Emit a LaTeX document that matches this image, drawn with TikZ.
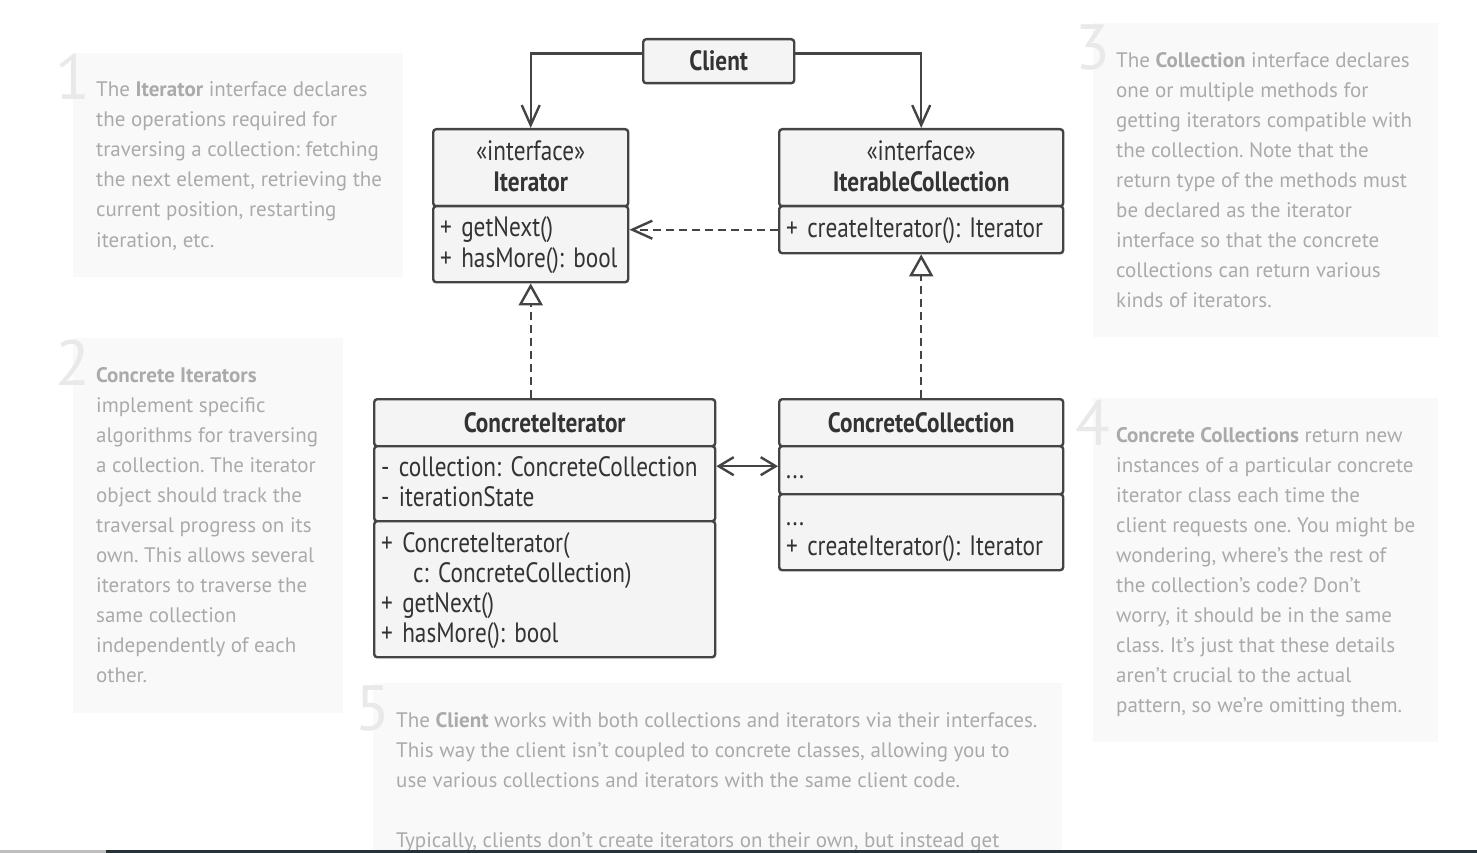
\documentclass[tikz,border=0pt]{standalone}
\usepackage{fontspec}
\setmainfont{PT Sans}
\newfontfamily\umlfont[FakeStretch=0.83]{PT Sans}
\usetikzlibrary{arrows.meta,positioning}
\definecolor{umlline}{HTML}{444444}
\definecolor{umlfill}{HTML}{F4F4F4}
\definecolor{umltext}{HTML}{333333}
\definecolor{notefill}{HTML}{F9F9F9}
\definecolor{notetext}{HTML}{AAAAAA}
\definecolor{notenum}{HTML}{E9E9E9}
\definecolor{barleft}{HTML}{BDBDBD}
\definecolor{barright}{HTML}{263238}
\newcommand\umlstrut{\rule[-6pt]{0pt}{28pt}}

\begin{document}
\frenchspacing
\begin{tikzpicture}[x=1pt, y=-1pt,
    part/.style={draw=umlline, fill=umlfill, line width=2.4pt, rounded corners=3pt, anchor=north west,
        inner xsep=7pt, inner ysep=0pt, text=umltext, font=\umlfont\fontsize{28}{30}\selectfont},
    head/.style={part, align=center},
    body/.style={part, align=left},
    note/.style={anchor=base west, align=left, inner sep=0pt, text=notetext, font=\fontsize{21}{30}\selectfont},
    num/.style={anchor=base east, inner sep=0pt, text=notenum, font=\fontsize{64}{64}\selectfont},
    uses/.style={draw=umlline, line width=2.4pt, -{Straight Barb[length=20pt,width=18pt]}},
    both/.style={draw=umlline, line width=2.4pt, {Straight Barb[length=15pt,width=18pt]}-{Straight Barb[length=15pt,width=18pt]}},
    depends/.style={uses, dash pattern=on 8pt off 5pt},
    realizes/.style={draw=umlline, line width=2.4pt, dash pattern=on 8pt off 5pt, -{Triangle[length=22pt,width=24pt,fill=white]}}]
    \useasboundingbox (0,0) rectangle (1477,853);

    % notes (placed at the baseline of their last line)
    \fill[notefill] (73,53) rectangle (403,277);
    \fill[notefill] (73,338) rectangle (343,713);
    \fill[notefill] (1093,23) rectangle (1438,337);
    \fill[notefill] (1093,398) rectangle (1438,742);
    \fill[notefill] (373,683) rectangle (1062,853);

    \node[num] (n1) at (91,100) {1};
    \node[note] (note1) at (96,247) {The \textbf{Iterator} interface declares\\the operations required for\\traversing a collection: fetching\\the next element, retrieving the\\current position, restarting\\iteration, etc.};
    \node[num] (n2) at (91,385) {2};
    \node[note] (note2) at (96,682) {\textbf{Concrete Iterators}\\implement specific\\algorithms for traversing\\a collection. The iterator\\object should track the\\traversal progress on its\\own. This allows several\\iterators to traverse the\\same collection\\independently of each\\other.};
    \node[num] (n3) at (1111,70) {3};
    \node[note] (note3) at (1116,307) {The \textbf{Collection} interface declares\\one or multiple methods for\\getting iterators compatible with\\the collection. Note that the\\return type of the methods must\\be declared as the iterator\\interface so that the concrete\\collections can return various\\kinds of iterators.};
    \node[num] (n4) at (1111,445) {4};
    \node[note] (note4) at (1116,712) {\textbf{Concrete Collections} return new\\instances of a particular concrete\\iterator class each time the\\client requests one. You might be\\wondering, where’s the rest of\\the collection’s code? Don’t\\worry, it should be in the same\\class. It’s just that these details\\aren’t crucial to the actual\\pattern, so we’re omitting them.};
    \node[num] (n5) at (391,730) {5};
    \node[note] (note5) at (396,847) {The \textbf{Client} works with both collections and iterators via their interfaces.\\This way the client isn’t coupled to concrete classes, allowing you to\\use various collections and iterators with the same client code.\\[30pt]Typically, clients don’t create iterators on their own, but instead get};

    % classes
    \node[head, text width=137pt, minimum height=44pt] (client) at (642,38) {\textbf{Client}};
    \node[head, text width=181pt, minimum height=77pt] (ithead) at (432,128) {\umlstrut«interface»\\[1pt]\textbf{Iterator}\umlstrut};
    \node[body, text width=181pt, minimum height=76pt] (itbody) at (432,205) {\umlstrut+ getNext()\\[1pt]+ hasMore(): bool\umlstrut};
    \node[head, text width=270pt, minimum height=77pt] (ichead) at (778,128) {\umlstrut«interface»\\[1pt]\textbf{IterableCollection}\umlstrut};
    \node[body, text width=270pt, minimum height=47pt] (icbody) at (778,205) {\umlstrut+ createIterator(): Iterator};
    \node[head, text width=327pt, minimum height=47pt] (cihead) at (373,398) {\textbf{ConcreteIterator}};
    \node[body, text width=327pt, minimum height=75pt] (cifields) at (373,445) {\umlstrut- collection: ConcreteCollection\\- iterationState\umlstrut};
    \node[body, text width=327pt, minimum height=136pt] (cimethods) at (373,520) {\umlstrut+ ConcreteIterator(\\\hspace*{32pt}c: ConcreteCollection)\\+ getNext()\\+ hasMore(): bool\umlstrut};
    \node[head, text width=270pt, minimum height=47pt] (cchead) at (778,398) {\textbf{ConcreteCollection}};
    \node[body, text width=270pt, minimum height=48pt] (ccfields) at (778,445) {\umlstrut...};
    \node[body, text width=270pt, minimum height=76pt] (ccmethods) at (778,493) {\umlstrut...\\+ createIterator(): Iterator\umlstrut};

    % links
    \draw[uses] ([yshift=7.5pt]client.west) -| (ithead.north);
    \draw[uses] ([yshift=7.5pt]client.east) -| (ichead.north);
    \draw[depends] (icbody.west) -- (icbody.west -| itbody.east);
    \draw[realizes] (itbody.south |- cihead.north) -- (itbody.south);
    \draw[realizes] (cchead.north) -- (icbody.south);
    \draw[both] ([yshift=4pt]ccfields.west -| cifields.east) -- ([yshift=4pt]ccfields.west);

    \fill[barleft] (0,850) rectangle (106,853);
    \fill[barright] (106,850) rectangle (1477,853);
\end{tikzpicture}
\end{document}
